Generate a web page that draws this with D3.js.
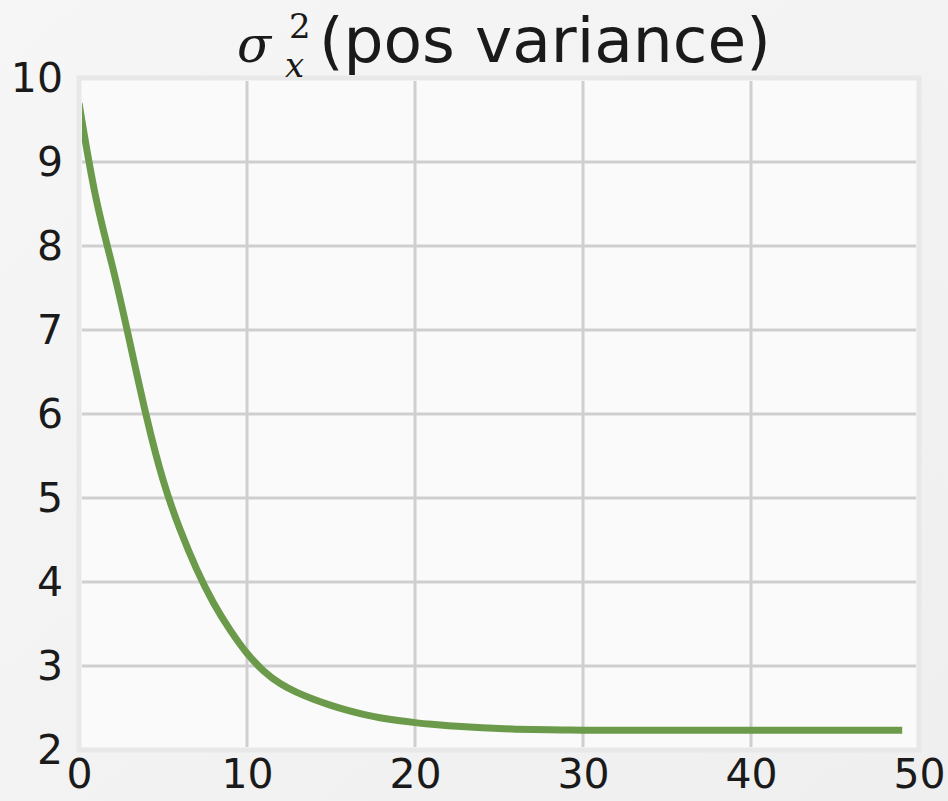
<!DOCTYPE html>
<html>
<head>
<meta charset="utf-8">
<script src="https://cdn.jsdelivr.net/npm/d3@7"></script>
<style>
  body { margin: 0; background: #f3f3f3; }
  svg { display: block; }
</style>
</head>
<body>
<div id="chart"></div>
<script>
// chart data
var steps = d3.range(0, 50);
var variance = [9.7, 8.5, 7.78, 6.88, 5.96, 5.18, 4.62, 4.14, 3.74, 3.42,
                3.14, 2.93, 2.78, 2.68, 2.60, 2.53, 2.47, 2.42, 2.38, 2.35,
                2.325, 2.305, 2.29, 2.275, 2.265, 2.255, 2.248, 2.243, 2.24, 2.238,
                2.236, 2.235, 2.235, 2.235, 2.235, 2.235, 2.235, 2.235, 2.235, 2.235,
                2.235, 2.235, 2.235, 2.235, 2.235, 2.235, 2.235, 2.235, 2.235, 2.235];
var xTicks = [0, 10, 20, 30, 40, 50];
var yTicks = [2, 3, 4, 5, 6, 7, 8, 9, 10];

var width = 948, height = 801;
var margin = {top: 78, right: 29, bottom: 51, left: 79};

var svg = d3.select("#chart").append("svg")
    .attr("width", width)
    .attr("height", height);

var bg = svg.append("defs").append("linearGradient")
    .attr("id", "bg")
    .attr("x1", "0").attr("y1", "0").attr("x2", "1").attr("y2", "1");
bg.append("stop").attr("offset", "0").attr("stop-color", "#f6f6f6");
bg.append("stop").attr("offset", "1").attr("stop-color", "#efefef");

svg.append("rect")
    .attr("width", width)
    .attr("height", height)
    .style("fill", "url(#bg)");

var x = d3.scaleLinear().domain([0, 50]).range([margin.left, width - margin.right]);
var y = d3.scaleLinear().domain([2, 10]).range([height - margin.bottom, margin.top]);

// plot area
svg.append("rect")
    .attr("x", x(0))
    .attr("y", y(10))
    .attr("width", x(50) - x(0))
    .attr("height", y(2) - y(10))
    .style("fill", "#fafafa")
    .style("stroke", "#e8e8e8")
    .style("stroke-width", 5);

svg.append("clipPath").attr("id", "plotClip")
    .append("rect")
    .attr("x", x(0) + 3)
    .attr("y", y(10) + 3)
    .attr("width", x(50) - x(0) - 6)
    .attr("height", y(2) - y(10) - 6);

// grid lines
var grid = svg.append("g").attr("clip-path", "url(#plotClip)");
grid.selectAll(".vgrid").data(xTicks).enter().append("line")
    .attr("class", "vgrid")
    .attr("x1", function (d) { return x(d); })
    .attr("x2", function (d) { return x(d); })
    .attr("y1", y(10))
    .attr("y2", y(2))
    .style("stroke", "#cfcfcf")
    .style("stroke-width", 3);
grid.selectAll(".hgrid").data(yTicks).enter().append("line")
    .attr("class", "hgrid")
    .attr("x1", x(0))
    .attr("x2", x(50))
    .attr("y1", function (d) { return y(d); })
    .attr("y2", function (d) { return y(d); })
    .style("stroke", "#cfcfcf")
    .style("stroke-width", 3);

// the variance curve
var line = d3.line()
    .x(function (d, i) { return x(steps[i]); })
    .y(function (d) { return y(d); })
    .curve(d3.curveBasis);

svg.append("path")
    .datum(variance)
    .attr("clip-path", "url(#plotClip)")
    .attr("d", line)
    .style("fill", "none")
    .style("stroke", "#6a9a4a")
    .style("stroke-width", 7)
    .style("stroke-linecap", "butt")
    .style("stroke-linejoin", "round");

// axes: labels only, no lines
var xAxis = svg.append("g")
    .attr("transform", "translate(0," + (height - margin.bottom) + ")")
    .call(d3.axisBottom(x).tickValues(xTicks).tickSize(0).tickPadding(9).tickFormat(d3.format("d")));
var yAxis = svg.append("g")
    .attr("transform", "translate(" + margin.left + ",0)")
    .call(d3.axisLeft(y).tickValues(yTicks).tickSize(0).tickPadding(16).tickFormat(d3.format("d")));

[xAxis, yAxis].forEach(function (ax) {
    ax.select(".domain").remove();
    ax.selectAll("text")
        .style("font-family", "'DejaVu Sans', sans-serif")
        .style("font-size", "41px")
        .style("fill", "#1a1a1a");
});

// title: sigma_x^2 then the words
var titleY = 62;
var title = svg.append("g").style("fill", "#1a1a1a");
title.append("text")
    .attr("x", x(25) - 262)
    .attr("y", titleY)
    .style("font-family", "'DejaVu Serif', serif")
    .style("font-style", "italic")
    .style("font-size", "50px")
    .text("σ");
title.append("text")
    .attr("x", x(25) - 210)
    .attr("y", titleY - 24)
    .style("font-family", "'DejaVu Serif', serif")
    .style("font-size", "34px")
    .text("2");
title.append("text")
    .attr("x", x(25) - 214)
    .attr("y", titleY + 15)
    .style("font-family", "'DejaVu Serif', serif")
    .style("font-style", "italic")
    .style("font-size", "34px")
    .text("x");
title.append("text")
    .attr("x", x(25) - 180)
    .attr("y", titleY)
    .style("font-family", "'DejaVu Sans', sans-serif")
    .style("font-size", "63px")
    .text("(pos variance)");
</script>
</body>
</html>
